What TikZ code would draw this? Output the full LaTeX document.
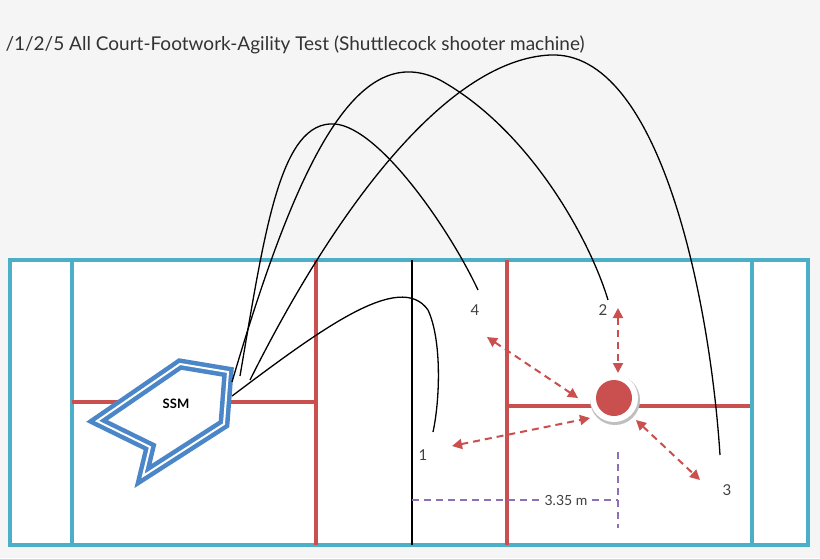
\documentclass[tikz,border=0pt]{standalone}
\usepackage{fontspec}
\setmainfont{Lato}
\usetikzlibrary{arrows.meta}
\begin{document}
\begin{tikzpicture}[x=1pt,y=-1pt,
  court/.style={draw=cblue,line width=3.5pt},
  redl/.style={draw=cred,line width=4pt},
  darr/.style={draw=cred,line width=2pt,dash pattern=on 7pt off 5pt,{Triangle[length=10pt,width=10pt]}-{Triangle[length=10pt,width=10pt]}},
  traj/.style={draw=black,line width=1.3pt},
  lab/.style={font=\fontsize{15}{15}\selectfont,text=black!75}]
\definecolor{cblue}{HTML}{4BAFC8}
\definecolor{cred}{HTML}{C9504E}
\definecolor{cpur}{HTML}{8D6FB5}
\definecolor{sblue}{HTML}{4A86C8}
\fill[black!4] (0,0) rectangle (820,558);
\useasboundingbox (0,0) rectangle (820,558);
\node[anchor=west,font=\fontsize{19}{19}\selectfont,text=black!80] (title) at (2,45) {/1/2/5 All Court-Footwork-Agility Test (Shuttlecock shooter machine)};
\fill[white] (10,260) rectangle (808,545);
\draw[court] (10,260) rectangle (808,545);
\draw[court] (72,260) -- (72,545);
\draw[court] (752,260) -- (752,545);
\draw[redl] (316,260) -- (316,545);
\draw[redl] (507,260) -- (507,545);
\draw[redl] (72,402) -- (316,402);
\draw[redl] (507,406) -- (750,406);
\draw[line width=1.5pt] (412,260) -- (412,545);
\draw[cpur,line width=1.5pt,dash pattern=on 7pt off 5pt] (412,500) -- (618,500);
\draw[cpur,line width=1.5pt,dash pattern=on 7pt off 5pt] (618,452) -- (618,528);
\node[lab,font=\fontsize{14}{14}\selectfont,fill=white,inner sep=1pt] (dist) at (566,500) {3.35 m};
% SSM
\coordinate (s1) at (180,364);\coordinate (s2) at (228,372);\coordinate (s3) at (224,424);
\coordinate (s4) at (143,476);\coordinate (s5) at (150,447);\coordinate (s6) at (97,421);
\draw[sblue,line width=11pt,line join=miter,fill=white] (s1)--(s2)--(s3)--(s4)--(s5)--(s6)--cycle;
\draw[white,line width=2pt,line join=miter] (s1)--(s2)--(s3)--(s4)--(s5)--(s6)--cycle;
\node[font=\bfseries\fontsize{13}{13}\selectfont] (ssm) at (176,404) {SSM};
% target
\fill[black!25] (615,400) circle (25);
\fill[white] (614,398) circle (24);
\fill[cred] (614,398) circle (18);
\node[circle,minimum size=44pt,inner sep=0] (c) at (614,398) {};
% labels
\node[lab] (n4) at (475,310) {4};
\node[lab] (n2) at (603,310) {2};
\node[lab] (n1) at (423,455) {1};
\node[lab] (n3) at (727,490) {3};
\coordinate (a4) at (487,337);\coordinate (a1) at (452,446);
\coordinate (a2) at (618,308);\coordinate (a3) at (700,480);
\draw[darr] (a4) -- (578,398);
\draw[darr] (a1) -- (590,418);
\draw[darr] (a2) -- (618,373);
\draw[darr] (636,420) -- (a3);
% trajectories
\draw[traj] (232,396) .. controls (320,330) and (400,270) .. (428,310) .. controls (442,340) and (440,400) .. (433,432);
\draw[traj] (240,376) .. controls (265,230) and (280,120) .. (335,124) .. controls (380,128) and (450,230) .. (478,290);
\draw[traj] (232,382) .. controls (300,150) and (360,40) .. (440,80) .. controls (530,130) and (590,240) .. (608,300);
\draw[traj] (250,380) .. controls (340,200) and (450,60) .. (550,55) .. controls (660,50) and (710,300) .. (720,455);
\end{tikzpicture}
\end{document}
